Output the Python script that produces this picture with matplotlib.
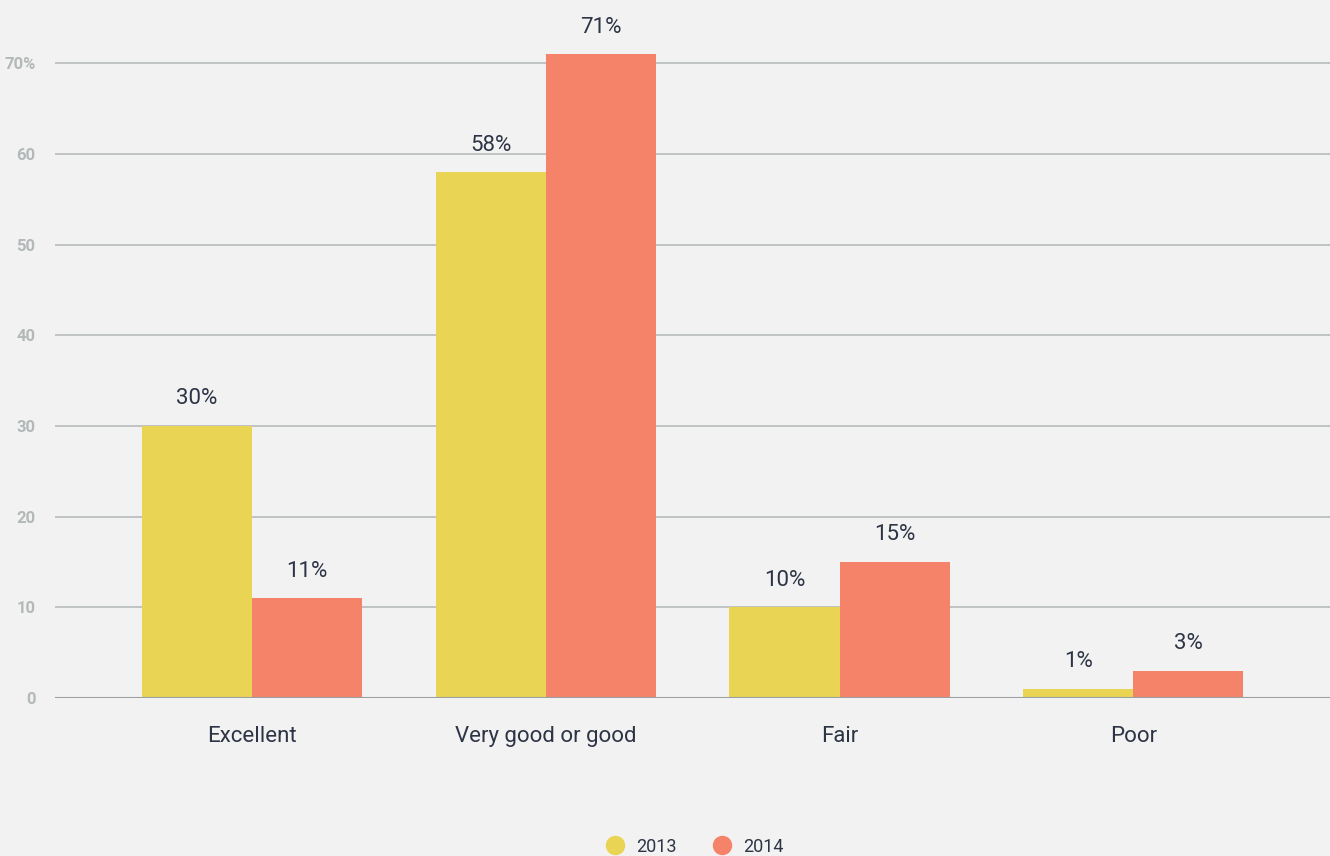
import matplotlib
matplotlib.use("Agg")
import matplotlib.pyplot as plt
import numpy as np

# Survey results by rating, two years
categories = ["Excellent", "Very good or good", "Fair", "Poor"]
years = ["2013", "2014"]
values_2013 = [30, 58, 10, 1]
values_2014 = [11, 71, 15, 3]
y_ticks = [0, 10, 20, 30, 40, 50, 60, 70]
y_tick_labels = ["0", "10", "20", "30", "40", "50", "60", "70%"]

yellow = "#e9d454"
salmon = "#f5836a"
bg = "#f2f2f2"
text_dark = "#2d3445"
tick_grey = "#b3b8b8"
narrow = ["Liberation Sans Narrow", "Roboto", "DejaVu Sans"]

fig = plt.figure(figsize=(13.3, 8.56), dpi=100, facecolor=bg)
ax = fig.add_axes([0.0414, 0.1846, 0.9586, 0.8154], facecolor=bg)

x = np.arange(len(categories))
w = 0.375
bars1 = ax.bar(x - w / 2, values_2013, w, color=yellow, zorder=3)
bars2 = ax.bar(x + w / 2, values_2014, w, color=salmon, zorder=3)

for bars, vals in ((bars1, values_2013), (bars2, values_2014)):
    for b, v in zip(bars, vals):
        ax.annotate(f"{v}%", (b.get_x() + b.get_width() / 2, v),
                    xytext=(0, 12), textcoords="offset points",
                    ha="center", va="bottom", fontsize=16,
                    color=text_dark, family=narrow)

ax.set_xlim(-0.671, 3.67)
ax.set_ylim(0, 77)
ax.set_yticks(y_ticks)
ax.set_yticklabels(y_tick_labels, fontsize=12, fontweight="bold",
                   color=tick_grey, family=narrow)
ax.set_xticks(x)
ax.set_xticklabels(categories, fontsize=16, color=text_dark, family=narrow)
ax.tick_params(axis="y", length=0, pad=14)
ax.tick_params(axis="x", length=0, pad=20)

ax.grid(axis="y", color="#bcc0c0", linewidth=1.3, zorder=0)
ax.axhline(0, color="#9aa0a0", linewidth=1.5, zorder=4)
for s in ax.spines.values():
    s.set_visible(False)

# Legend at the bottom centre
handles = [plt.Line2D([], [], marker="o", linestyle="", markersize=13,
                      color=c) for c in (yellow, salmon)]
leg = fig.legend(handles, years, loc="center", bbox_to_anchor=(0.519, 0.011),
                 ncol=2, frameon=False, handletextpad=0.2, columnspacing=1.5,
                 prop={"family": narrow, "size": 13})
for t in leg.get_texts():
    t.set_color(text_dark)

fig.savefig("out.png", dpi=100, facecolor=bg)
